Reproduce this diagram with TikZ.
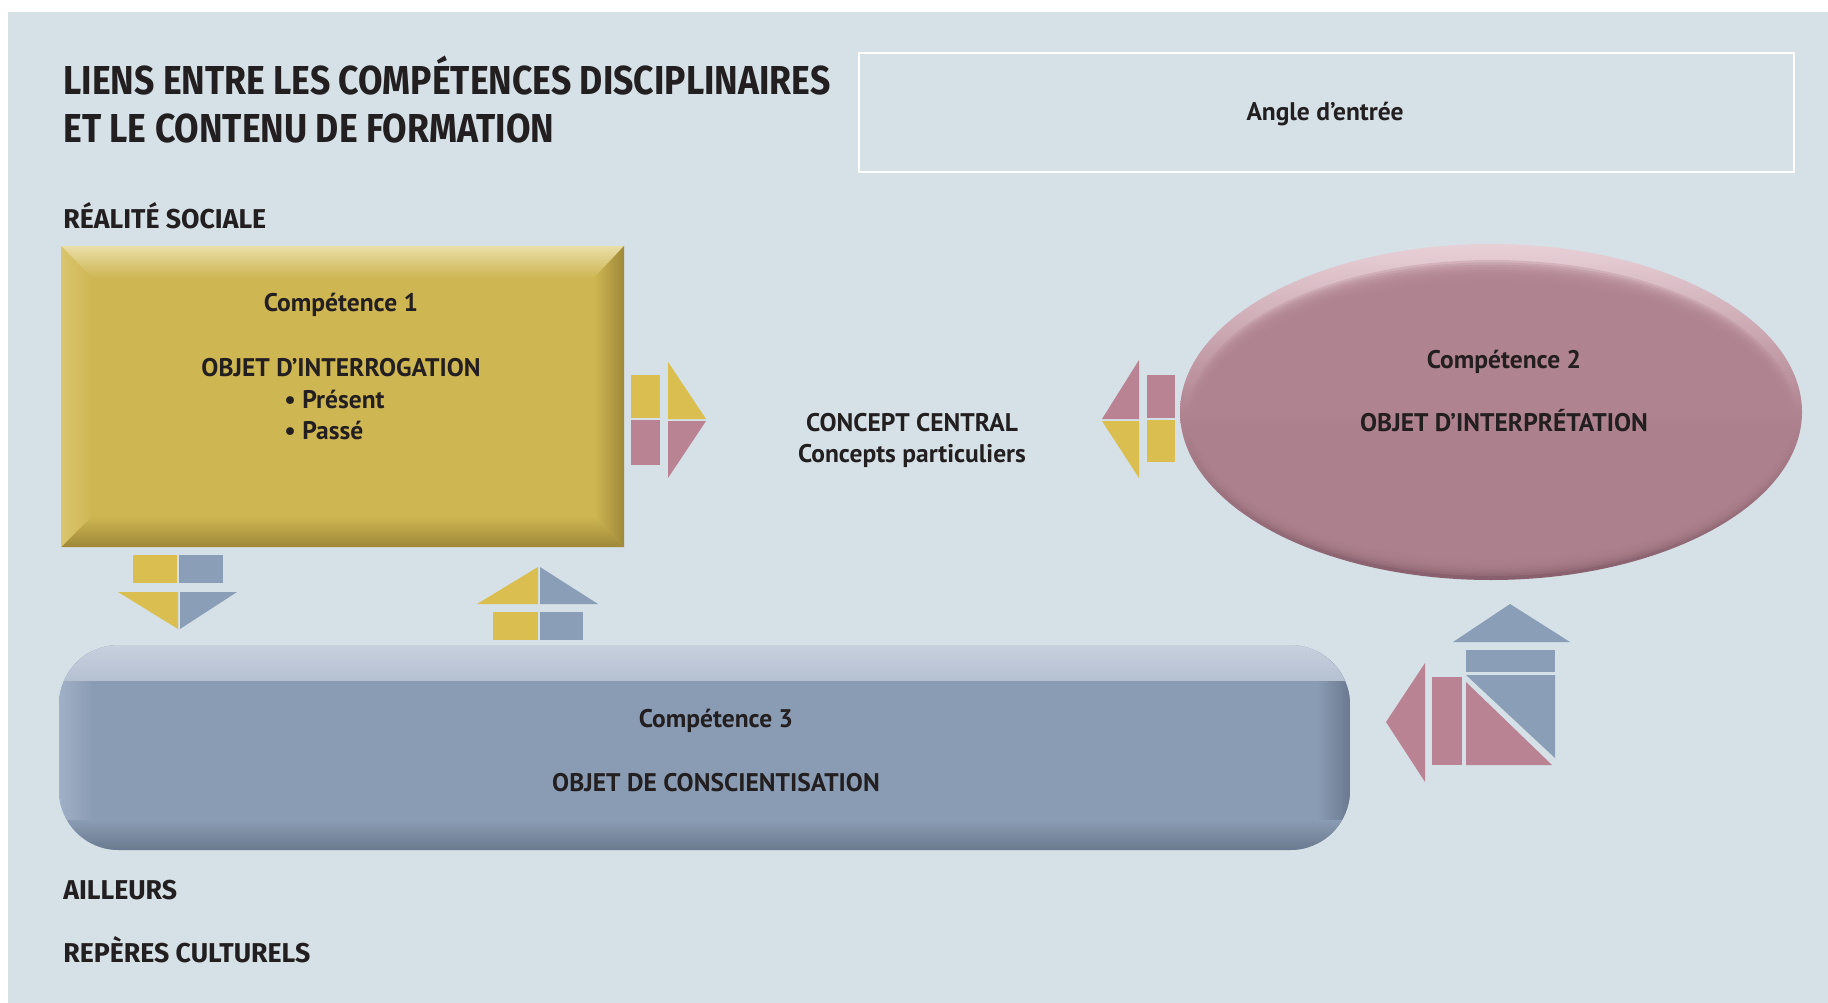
\documentclass[tikz,border=0pt]{standalone}
\usepackage{fontspec}
\setmainfont{PT Sans}
\newfontfamily\titlefont{Fira Sans}[FakeStretch=0.88]
\newfontfamily\labelfont{Fira Sans}[FakeStretch=0.98]

\definecolor{panel}{RGB}{213,225,230}
\definecolor{ink}{RGB}{35,31,32}
\definecolor{ylBase}{RGB}{206,182,82}
\definecolor{ylLight}{RGB}{234,222,168}
\definecolor{ylLeft}{RGB}{218,198,112}
\definecolor{ylDark}{RGB}{158,137,58}
\definecolor{blBase}{RGB}{138,156,180}
\definecolor{blLight}{RGB}{200,208,222}
\definecolor{blLeft}{RGB}{160,176,198}
\definecolor{blDark}{RGB}{106,121,142}
\definecolor{pkBase}{RGB}{176,131,144}
\definecolor{pkLight}{RGB}{232,208,215}
\definecolor{pkDark}{RGB}{136,96,109}
\definecolor{arY}{RGB}{218,190,80}
\definecolor{arP}{RGB}{186,131,147}
\definecolor{arB}{RGB}{138,158,184}

\tikzset{
  body/.style={font=\bfseries\fontsize{14.5}{17}\selectfont, text=ink, inner sep=0pt, anchor=base},
  headline/.style={font=\titlefont\bfseries\fontsize{23}{28}\selectfont, text=ink, inner sep=0pt, anchor=base west},
  sidelabel/.style={font=\labelfont\bfseries\fontsize{15.5}{18}\selectfont, text=ink, inner sep=0pt, anchor=base west},
}

\begin{document}
\begin{tikzpicture}[x=0.02cm,y=-0.02cm]
\useasboundingbox (0,0) rectangle (1828,1003);
\fill[white] (0,0) rectangle (1828,1003);
\fill[panel] (8,12) rectangle (1828,1003);

% ---- title and side labels
\node[headline] (t1) at (63,95) {LIENS ENTRE LES COMPÉTENCES DISCIPLINAIRES};
\node[headline] (t2) at (63,143) {ET LE CONTENU DE FORMATION};
\node[sidelabel] (real) at (63,229) {RÉALITÉ SOCIALE};
\node[sidelabel] (ailleurs) at (63,899) {AILLEURS};
\node[sidelabel] (reperes) at (63,962) {REPÈRES CULTURELS};

% ---- entry-angle frame
\node[draw=white, line width=1.3pt, minimum width=18.7cm, minimum height=2.38cm,
      inner sep=0pt, anchor=north west] (angleframe) at (858,52) {};
\node[body] (angle) at (1325,121) {Angle d’entrée};

% ---- competence 1: bevelled yellow block
\fill[ylBase] (61,246) rectangle (624,547);
\shade[top color=ylLight, bottom color=ylBase] (61,246) -- (624,246) -- (594,278) -- (92,278) -- cycle;
\shade[top color=ylBase, bottom color=ylDark] (61,547) -- (624,547) -- (594,516) -- (92,516) -- cycle;
\shade[left color=ylLeft, right color=ylBase] (61,246) -- (92,278) -- (92,516) -- (61,547) -- cycle;
\shade[left color=ylBase, right color=ylDark] (624,246) -- (594,278) -- (594,516) -- (624,547) -- cycle;
\node[body] (c1a) at (341,312) {Compétence 1};
\node[body] (c1b) at (341,377) {OBJET D’INTERROGATION};
\node[body, anchor=base west] (c1c) at (284,408) {• Présent};
\node[body, anchor=base west] (c1d) at (284,439) {• Passé};

% ---- central concept
\node[body] (cc1) at (912,431) {CONCEPT CENTRAL};
\node[body] (cc2) at (912,462) {Concepts particuliers};

% ---- competence 2: pink oval with light upper rim and dark lower rim
\shade[top color=pkLight, bottom color=pkDark, middle color=pkBase]
  (1491,412) ellipse [x radius=311, y radius=168];
\foreach \i in {0,...,11}{
  \pgfmathsetmacro{\rx}{304-2.0*\i}
  \pgfmathsetmacro{\ry}{158-2.4*\i}
  \fill[pkBase, opacity=0.3] (1492,418) ellipse [x radius=\rx, y radius=\ry];
}
\node[body] (c2a) at (1504,368) {Compétence 2};
\node[body] (c2b) at (1504,431) {OBJET D’INTERPRÉTATION};

% ---- competence 3: bevelled blue bar with round corners
\begin{scope}
  \clip[rounded corners=34] (59,645) rectangle (1350,850);
  \fill[blBase] (59,645) rectangle (1350,850);
  \shade[left color=blLeft, right color=blBase] (59,645) rectangle (93,850);
  \shade[left color=blBase, right color=blDark] (1317,645) rectangle (1350,850);
  \shade[top color=blLight, bottom color=blLight!70!blBase] (59,645) rectangle (1350,680);
  \shade[top color=blBase, bottom color=blDark] (59,820) rectangle (1350,850);
\end{scope}
\node[body] (c3a) at (716,727) {Compétence 3};
\node[body] (c3b) at (716,791) {OBJET DE CONSCIENTISATION};

% ---- arrow glyph: competence 1 -> central concept
\fill[arY] (631,375) rectangle (660,418);
\fill[arP] (631,420) rectangle (660,465);
\fill[arY] (668,362) -- (706,419) -- (668,419) -- cycle;
\fill[arP] (668,421) -- (706,421) -- (668,478) -- cycle;

% ---- arrow glyph: competence 2 -> central concept
\fill[arP] (1139,360) -- (1102,419) -- (1139,419) -- cycle;
\fill[arY] (1102,421) -- (1139,421) -- (1139,478) -- cycle;
\fill[arP] (1147,375) rectangle (1175,418);
\fill[arY] (1147,420) rectangle (1175,462);

% ---- arrow glyph: competence 1 -> competence 3
\fill[arY] (133,555) rectangle (177,583);
\fill[arB] (179,555) rectangle (223,583);
\fill[arY] (118,592) -- (178,592) -- (178,629) -- cycle;
\fill[arB] (180,592) -- (237,592) -- (180,629) -- cycle;

% ---- arrow glyph: competence 3 -> competence 1
\fill[arY] (477,604) -- (538,567) -- (538,604) -- cycle;
\fill[arB] (540,567) -- (598,604) -- (540,604) -- cycle;
\fill[arY] (493,612) rectangle (538,640);
\fill[arB] (540,612) rectangle (583,640);

% ---- arrow glyph: competences 3 and 2 linked
\fill[arB] (1510,604) -- (1570,642) -- (1453,642) -- cycle;
\fill[arB] (1466,650) rectangle (1555,672);
\fill[arB] (1466,675) -- (1555,675) -- (1555,758) -- cycle;
\fill[arP] (1466,682) -- (1552,765) -- (1466,765) -- cycle;
\fill[arP] (1432,677) rectangle (1462,765);
\fill[arP] (1425,663) -- (1386,722) -- (1425,782) -- cycle;
\end{tikzpicture}
\end{document}
